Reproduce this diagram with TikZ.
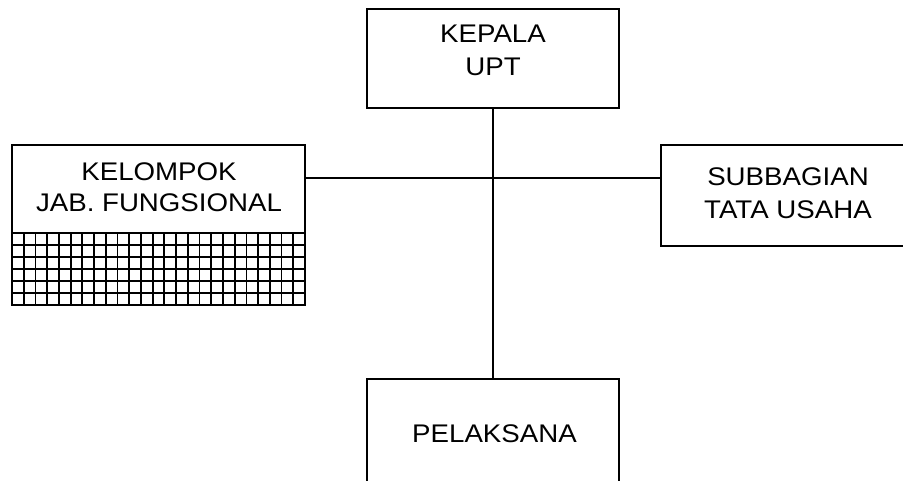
\documentclass[tikz,border=0pt]{standalone}
\usepackage{fontspec}
\setmainfont{Liberation Sans}[FakeStretch=1.085]
\begin{document}
\begin{tikzpicture}[x=1pt,y=-1pt,
  box/.style={draw, line width=1.3pt, inner sep=0pt, outer sep=0pt},
  conn/.style={line width=1.1pt},
  gridline/.style={line width=1.8pt},
  lbl/.style={font=\fontsize{25.5}{31}\selectfont, anchor=base, inner sep=0pt}]
\useasboundingbox (0,0) rectangle (903,480);
% boxes
\node[box, minimum width=252pt, minimum height=99pt] (kepala) at (493,58.5) {};
\node[box, minimum width=293pt, minimum height=160pt] (kelompok) at (158.5,225) {};
\node[box, minimum width=249pt, minimum height=101pt] (subbagian) at (785.5,195.5) {};
\node[box, minimum width=252pt, minimum height=111pt] (pelaksana) at (493,434.5) {};
% hatched grid in the lower part of kelompok
\foreach \i in {1,...,24} \draw[gridline] ({12+\i*11.72},233) -- ({12+\i*11.72},305);
\foreach \j in {0,...,5} \draw[gridline] (12,{233+\j*12}) -- (305,{233+\j*12});
% connectors
\coordinate (hub) at (493,178);
\draw[conn] (kepala.south) -- (pelaksana.north);
\draw[conn] (kelompok.east |- hub) -- (subbagian.west |- hub);
% texts
\node[lbl] (t1) at (493,42) {KEPALA};
\node[lbl] (t2) at (493,75) {UPT};
\node[lbl] (t3) at (159,180) {KELOMPOK};
\node[lbl] (t4) at (159,211) {JAB. FUNGSIONAL};
\node[lbl] (t5) at (788,185.5) {SUBBAGIAN};
\node[lbl] (t6) at (788,218) {TATA USAHA};
\node[lbl] (t7) at (494.5,442) {PELAKSANA};
\end{tikzpicture}
\end{document}
